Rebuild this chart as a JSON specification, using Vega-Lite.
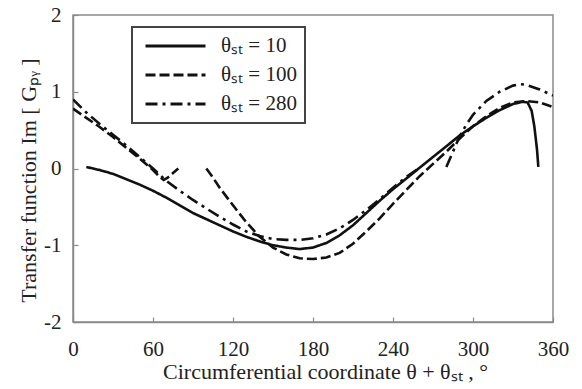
{
  "$schema": "https://vega.github.io/schema/vega-lite/v6.json",
  "width": 480,
  "height": 307,
  "autosize": {"type": "none"},
  "padding": {"left": 73, "top": 15, "right": 29, "bottom": 67},
  "background": "white",
  "config": {
    "view": {"stroke": "#8a8a8a", "strokeWidth": 1.5},
    "font": "Liberation Serif",
    "legend": {"strokeWidth": 2}
  },
  "data": {
    "values": [
      {"s": "θₛₜ = 10", "seg": "a", "x": 10, "y": 0.02},
      {"s": "θₛₜ = 10", "seg": "a", "x": 20, "y": -0.02},
      {"s": "θₛₜ = 10", "seg": "a", "x": 30, "y": -0.07},
      {"s": "θₛₜ = 10", "seg": "a", "x": 40, "y": -0.14},
      {"s": "θₛₜ = 10", "seg": "a", "x": 50, "y": -0.21},
      {"s": "θₛₜ = 10", "seg": "a", "x": 60, "y": -0.29},
      {"s": "θₛₜ = 10", "seg": "a", "x": 70, "y": -0.38},
      {"s": "θₛₜ = 10", "seg": "a", "x": 80, "y": -0.48},
      {"s": "θₛₜ = 10", "seg": "a", "x": 90, "y": -0.58},
      {"s": "θₛₜ = 10", "seg": "a", "x": 100, "y": -0.66},
      {"s": "θₛₜ = 10", "seg": "a", "x": 110, "y": -0.74},
      {"s": "θₛₜ = 10", "seg": "a", "x": 120, "y": -0.82},
      {"s": "θₛₜ = 10", "seg": "a", "x": 130, "y": -0.89},
      {"s": "θₛₜ = 10", "seg": "a", "x": 140, "y": -0.95},
      {"s": "θₛₜ = 10", "seg": "a", "x": 150, "y": -1.0},
      {"s": "θₛₜ = 10", "seg": "a", "x": 160, "y": -1.03},
      {"s": "θₛₜ = 10", "seg": "a", "x": 170, "y": -1.05},
      {"s": "θₛₜ = 10", "seg": "a", "x": 180, "y": -1.03},
      {"s": "θₛₜ = 10", "seg": "a", "x": 190, "y": -0.97},
      {"s": "θₛₜ = 10", "seg": "a", "x": 200, "y": -0.87},
      {"s": "θₛₜ = 10", "seg": "a", "x": 210, "y": -0.74},
      {"s": "θₛₜ = 10", "seg": "a", "x": 220, "y": -0.58},
      {"s": "θₛₜ = 10", "seg": "a", "x": 230, "y": -0.42},
      {"s": "θₛₜ = 10", "seg": "a", "x": 240, "y": -0.27},
      {"s": "θₛₜ = 10", "seg": "a", "x": 250, "y": -0.13},
      {"s": "θₛₜ = 10", "seg": "a", "x": 260, "y": 0.01},
      {"s": "θₛₜ = 10", "seg": "a", "x": 270, "y": 0.15},
      {"s": "θₛₜ = 10", "seg": "a", "x": 280, "y": 0.29},
      {"s": "θₛₜ = 10", "seg": "a", "x": 290, "y": 0.43},
      {"s": "θₛₜ = 10", "seg": "a", "x": 300, "y": 0.55},
      {"s": "θₛₜ = 10", "seg": "a", "x": 310, "y": 0.66},
      {"s": "θₛₜ = 10", "seg": "a", "x": 320, "y": 0.76},
      {"s": "θₛₜ = 10", "seg": "a", "x": 330, "y": 0.84},
      {"s": "θₛₜ = 10", "seg": "a", "x": 337, "y": 0.87},
      {"s": "θₛₜ = 10", "seg": "a", "x": 341, "y": 0.86},
      {"s": "θₛₜ = 10", "seg": "a", "x": 344, "y": 0.75},
      {"s": "θₛₜ = 10", "seg": "a", "x": 346, "y": 0.55},
      {"s": "θₛₜ = 10", "seg": "a", "x": 348, "y": 0.25},
      {"s": "θₛₜ = 10", "seg": "a", "x": 349, "y": 0.02},

      {"s": "θₛₜ = 100", "seg": "a", "x": 0, "y": 0.78},
      {"s": "θₛₜ = 100", "seg": "a", "x": 10, "y": 0.66},
      {"s": "θₛₜ = 100", "seg": "a", "x": 20, "y": 0.54},
      {"s": "θₛₜ = 100", "seg": "a", "x": 30, "y": 0.41},
      {"s": "θₛₜ = 100", "seg": "a", "x": 40, "y": 0.27},
      {"s": "θₛₜ = 100", "seg": "a", "x": 50, "y": 0.13},
      {"s": "θₛₜ = 100", "seg": "a", "x": 60, "y": -0.02},
      {"s": "θₛₜ = 100", "seg": "a", "x": 65, "y": -0.11},
      {"s": "θₛₜ = 100", "seg": "a", "x": 68, "y": -0.15},
      {"s": "θₛₜ = 100", "seg": "a", "x": 71, "y": -0.12},
      {"s": "θₛₜ = 100", "seg": "a", "x": 75, "y": -0.06},
      {"s": "θₛₜ = 100", "seg": "a", "x": 79, "y": 0.0},
      {"s": "θₛₜ = 100", "seg": "b", "x": 100, "y": 0.0},
      {"s": "θₛₜ = 100", "seg": "b", "x": 105, "y": -0.12},
      {"s": "θₛₜ = 100", "seg": "b", "x": 110, "y": -0.25},
      {"s": "θₛₜ = 100", "seg": "b", "x": 120, "y": -0.48},
      {"s": "θₛₜ = 100", "seg": "b", "x": 130, "y": -0.7},
      {"s": "θₛₜ = 100", "seg": "b", "x": 140, "y": -0.89},
      {"s": "θₛₜ = 100", "seg": "b", "x": 150, "y": -1.03},
      {"s": "θₛₜ = 100", "seg": "b", "x": 160, "y": -1.12},
      {"s": "θₛₜ = 100", "seg": "b", "x": 170, "y": -1.17},
      {"s": "θₛₜ = 100", "seg": "b", "x": 180, "y": -1.18},
      {"s": "θₛₜ = 100", "seg": "b", "x": 190, "y": -1.16},
      {"s": "θₛₜ = 100", "seg": "b", "x": 200, "y": -1.1},
      {"s": "θₛₜ = 100", "seg": "b", "x": 210, "y": -0.98},
      {"s": "θₛₜ = 100", "seg": "b", "x": 220, "y": -0.82},
      {"s": "θₛₜ = 100", "seg": "b", "x": 230, "y": -0.65},
      {"s": "θₛₜ = 100", "seg": "b", "x": 240, "y": -0.46},
      {"s": "θₛₜ = 100", "seg": "b", "x": 250, "y": -0.28},
      {"s": "θₛₜ = 100", "seg": "b", "x": 260, "y": -0.1},
      {"s": "θₛₜ = 100", "seg": "b", "x": 270, "y": 0.06},
      {"s": "θₛₜ = 100", "seg": "b", "x": 280, "y": 0.22},
      {"s": "θₛₜ = 100", "seg": "b", "x": 290, "y": 0.39},
      {"s": "θₛₜ = 100", "seg": "b", "x": 300, "y": 0.55},
      {"s": "θₛₜ = 100", "seg": "b", "x": 310, "y": 0.68},
      {"s": "θₛₜ = 100", "seg": "b", "x": 320, "y": 0.79},
      {"s": "θₛₜ = 100", "seg": "b", "x": 330, "y": 0.86},
      {"s": "θₛₜ = 100", "seg": "b", "x": 340, "y": 0.88},
      {"s": "θₛₜ = 100", "seg": "b", "x": 350, "y": 0.86},
      {"s": "θₛₜ = 100", "seg": "b", "x": 360, "y": 0.8},

      {"s": "θₛₜ = 280", "seg": "a", "x": 0, "y": 0.9},
      {"s": "θₛₜ = 280", "seg": "a", "x": 10, "y": 0.73},
      {"s": "θₛₜ = 280", "seg": "a", "x": 20, "y": 0.58},
      {"s": "θₛₜ = 280", "seg": "a", "x": 30, "y": 0.44},
      {"s": "θₛₜ = 280", "seg": "a", "x": 40, "y": 0.3},
      {"s": "θₛₜ = 280", "seg": "a", "x": 50, "y": 0.15},
      {"s": "θₛₜ = 280", "seg": "a", "x": 60, "y": 0.0},
      {"s": "θₛₜ = 280", "seg": "a", "x": 70, "y": -0.16},
      {"s": "θₛₜ = 280", "seg": "a", "x": 80, "y": -0.29},
      {"s": "θₛₜ = 280", "seg": "a", "x": 90, "y": -0.41},
      {"s": "θₛₜ = 280", "seg": "a", "x": 100, "y": -0.52},
      {"s": "θₛₜ = 280", "seg": "a", "x": 110, "y": -0.63},
      {"s": "θₛₜ = 280", "seg": "a", "x": 120, "y": -0.73},
      {"s": "θₛₜ = 280", "seg": "a", "x": 130, "y": -0.82},
      {"s": "θₛₜ = 280", "seg": "a", "x": 140, "y": -0.88},
      {"s": "θₛₜ = 280", "seg": "a", "x": 150, "y": -0.92},
      {"s": "θₛₜ = 280", "seg": "a", "x": 160, "y": -0.93},
      {"s": "θₛₜ = 280", "seg": "a", "x": 170, "y": -0.93},
      {"s": "θₛₜ = 280", "seg": "a", "x": 180, "y": -0.91},
      {"s": "θₛₜ = 280", "seg": "a", "x": 190, "y": -0.86},
      {"s": "θₛₜ = 280", "seg": "a", "x": 200, "y": -0.78},
      {"s": "θₛₜ = 280", "seg": "a", "x": 210, "y": -0.67},
      {"s": "θₛₜ = 280", "seg": "a", "x": 220, "y": -0.54},
      {"s": "θₛₜ = 280", "seg": "a", "x": 230, "y": -0.4},
      {"s": "θₛₜ = 280", "seg": "a", "x": 240, "y": -0.25},
      {"s": "θₛₜ = 280", "seg": "a", "x": 250, "y": -0.11},
      {"s": "θₛₜ = 280", "seg": "a", "x": 259, "y": 0.0},
      {"s": "θₛₜ = 280", "seg": "b", "x": 280, "y": 0.02},
      {"s": "θₛₜ = 280", "seg": "b", "x": 285, "y": 0.22},
      {"s": "θₛₜ = 280", "seg": "b", "x": 290, "y": 0.42},
      {"s": "θₛₜ = 280", "seg": "b", "x": 295, "y": 0.57},
      {"s": "θₛₜ = 280", "seg": "b", "x": 300, "y": 0.7},
      {"s": "θₛₜ = 280", "seg": "b", "x": 310, "y": 0.88},
      {"s": "θₛₜ = 280", "seg": "b", "x": 320, "y": 1.0},
      {"s": "θₛₜ = 280", "seg": "b", "x": 330, "y": 1.08},
      {"s": "θₛₜ = 280", "seg": "b", "x": 335, "y": 1.1},
      {"s": "θₛₜ = 280", "seg": "b", "x": 340, "y": 1.09},
      {"s": "θₛₜ = 280", "seg": "b", "x": 350, "y": 1.03},
      {"s": "θₛₜ = 280", "seg": "b", "x": 360, "y": 0.95}
    ]
  },
  "mark": {"type": "line", "strokeWidth": 2.6, "color": "#111", "clip": true},
  "encoding": {
    "x": {
      "field": "x",
      "type": "quantitative",
      "scale": {"domain": [0, 360], "nice": false},
      "axis": {
        "values": [0, 60, 120, 180, 240, 300, 360],
        "title": "Circumferential coordinate   θ + θₛₜ , °",
        "grid": false,
        "domainColor": "#8a8a8a",
        "domainWidth": 1.5,
        "tickColor": "#8a8a8a",
        "tickWidth": 1.2,
        "tickSize": -5,
        "labelPadding": 21,
        "labelFontSize": 21,
        "labelColor": "#222",
        "labelFont": "Liberation Serif",
        "labelFlush": false,
        "titleFont": "Liberation Serif",
        "titleFontSize": 22,
        "titleFontWeight": "normal",
        "titleColor": "#222",
        "titlePadding": 2,
        "titleX": 252
      }
    },
    "y": {
      "field": "y",
      "type": "quantitative",
      "scale": {"domain": [-2, 2], "nice": false},
      "axis": {
        "values": [-2, -1, 0, 1, 2],
        "labelExpr": "datum.value + ''",
        "title": "Transfer function   Im [ Gₚᵧ ]",
        "grid": false,
        "domainColor": "#8a8a8a",
        "domainWidth": 1.5,
        "tickColor": "#8a8a8a",
        "tickWidth": 1.2,
        "tickSize": -5,
        "labelPadding": 17,
        "labelFontSize": 21,
        "labelColor": "#222",
        "labelFont": "Liberation Serif",
        "labelFlush": false,
        "titleFont": "Liberation Serif",
        "titleFontSize": 22,
        "titleFontWeight": "normal",
        "titleColor": "#222",
        "titlePadding": 3,
        "titleY": 165
      }
    },
    "detail": {"field": "seg"},
    "strokeDash": {
      "field": "s",
      "type": "nominal",
      "scale": {
        "domain": ["θₛₜ = 10", "θₛₜ = 100", "θₛₜ = 280"],
        "range": [[1, 0], [10, 4], [12, 5, 3, 5]]
      },
      "legend": {
        "orient": "none",
        "legendX": 59,
        "legendY": 12,
        "title": null,
        "strokeColor": "#444",
        "fillColor": "white",
        "padding": 8,
        "clipHeight": 22,
        "symbolType": "stroke",
        "symbolSize": 3600,
        "symbolOffset": 4,
        "symbolStrokeWidth": 2.8,
        "symbolStrokeColor": "#111",
        "labelFont": "Liberation Serif",
        "labelFontSize": 21,
        "labelColor": "#222",
        "labelOffset": 14,
        "rowPadding": 7
      }
    }
  }
}
